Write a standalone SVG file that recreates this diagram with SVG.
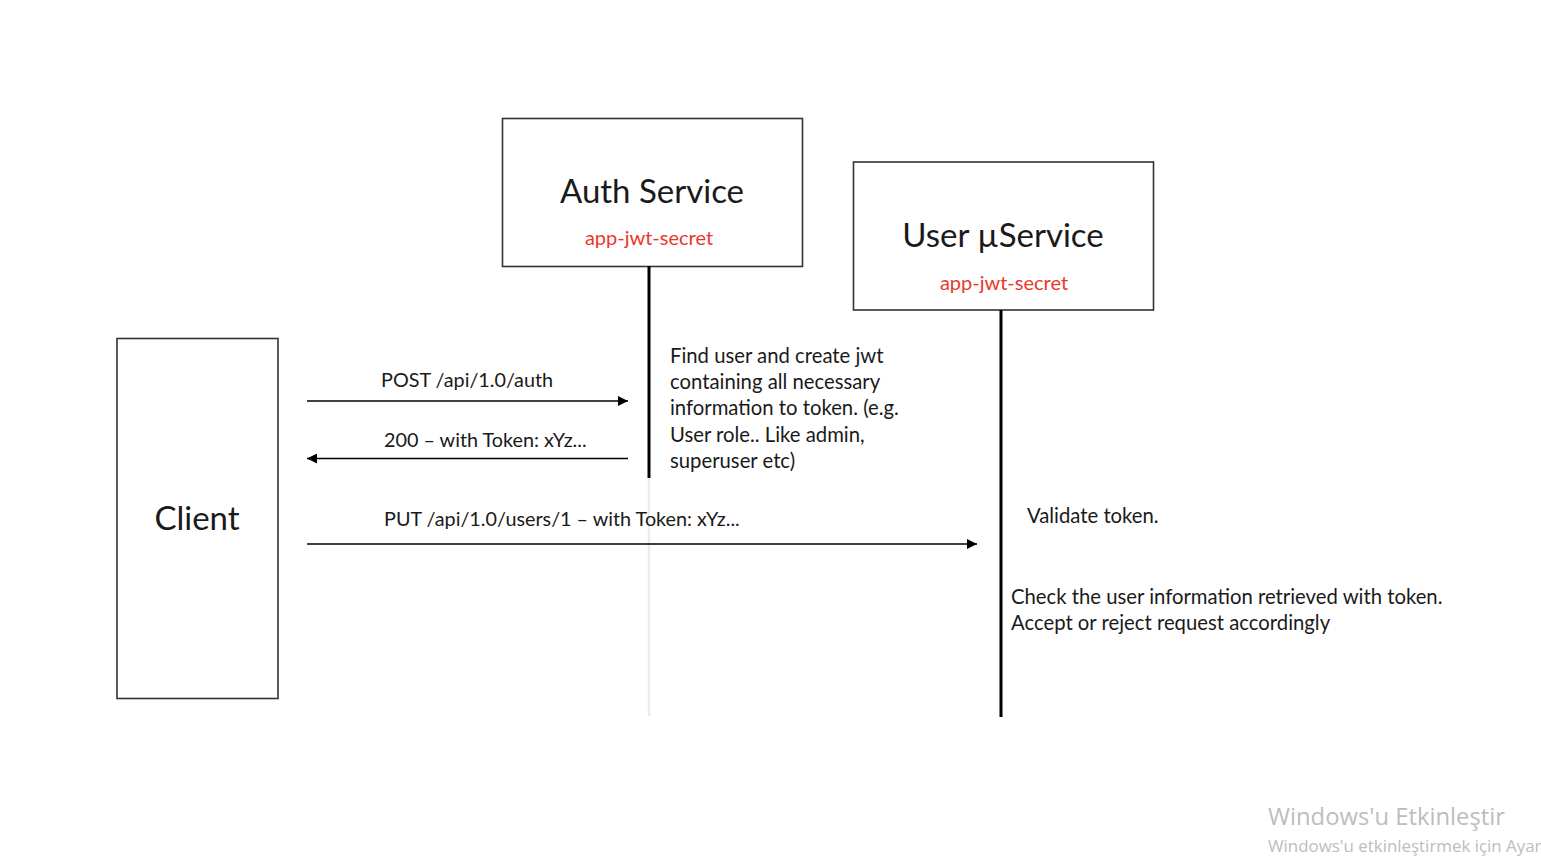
<svg xmlns="http://www.w3.org/2000/svg" width="1541" height="856" viewBox="0 0 1541 856">
  <defs>
    <marker id="ah" viewBox="0 0 10 10" refX="10" refY="5" markerWidth="13" markerHeight="10" markerUnits="userSpaceOnUse" orient="auto">
      <path d="M0,0 L10,5 L0,10 Z" fill="#000"/>
    </marker>
    <style>
      .box { fill: #fff; stroke: #333; stroke-width: 1.6; }
      .t { font-family: Lato, "Open Sans", sans-serif; fill: #1a1a1a; }
      .title { font-size: 33px; text-anchor: middle; }
      .secret { font-size: 20px; fill: #e8392b; text-anchor: middle; }
      .lbl { font-size: 19.8px; }
      .note { font-size: 20.3px; }
      .msg { stroke: #000; stroke-width: 1.5; fill: none; }
      .life { stroke: #000; stroke-width: 3; fill: none; }
      .wm { font-family: "Open Sans", "Noto Sans", sans-serif; fill: #bdbdbd; }
    </style>
  </defs>
  <rect width="1541" height="856" fill="#fff"/>

  <g id="client">
    <rect class="box" x="117" y="338.5" width="161" height="360"/>
    <text class="t title" x="197" y="530">Client</text>
  </g>

  <g id="auth-service">
    <rect class="box" x="502.5" y="118.5" width="300" height="148"/>
    <text class="t title" x="652" y="203">Auth Service</text>
    <text class="t secret" x="649" y="245">app-jwt-secret</text>
  </g>

  <g id="user-service">
    <rect class="box" x="853.5" y="162" width="300" height="148"/>
    <text class="t title" x="1003" y="247">User µService</text>
    <text class="t secret" x="1004" y="290">app-jwt-secret</text>
  </g>

  <g id="lifelines">
    <line class="life" x1="649" y1="266" x2="649" y2="478"/>
    <line x1="649" y1="478" x2="649" y2="716" stroke="#ececec" stroke-width="2.5"/>
    <line class="life" x1="1001" y1="310" x2="1001" y2="717"/>
  </g>

  <g id="connectors">
    <line class="msg" x1="307" y1="401" x2="628" y2="401" marker-end="url(#ah)"/>
    <line class="msg" x1="628" y1="458.5" x2="307" y2="458.5" marker-end="url(#ah)"/>
    <line class="msg" x1="307" y1="544" x2="977" y2="544" marker-end="url(#ah)"/>
  </g>

  <g id="labels">
    <text class="t lbl" x="381" y="387">POST /api/1.0/auth</text>
    <text class="t lbl" x="384" y="447">200 – with Token: xYz...</text>
    <text class="t lbl" x="384" y="526">PUT /api/1.0/users/1 – with Token: xYz...</text>
  </g>

  <g id="auth-note">
    <text class="t note" x="670" y="363">Find user and create jwt</text>
    <text class="t note" x="670" y="389">containing all necessary</text>
    <text class="t note" x="670" y="415">information to token. (e.g.</text>
    <text class="t note" x="670" y="442">User role.. Like admin,</text>
    <text class="t note" x="670" y="468">superuser etc)</text>
  </g>

  <g id="user-note">
    <text class="t note" x="1027" y="523">Validate token.</text>
    <text class="t note" x="1011" y="604">Check the user information retrieved with token.</text>
    <text class="t note" x="1011" y="630">Accept or reject request accordingly</text>
  </g>

  <g id="watermark">
    <text class="wm" x="1268" y="825" font-size="23.8">Windows'u Etkinleştir</text>
    <text class="wm" x="1268" y="852" font-size="16.9">Windows'u etkinleştirmek için Ayar</text>
  </g>
</svg>
